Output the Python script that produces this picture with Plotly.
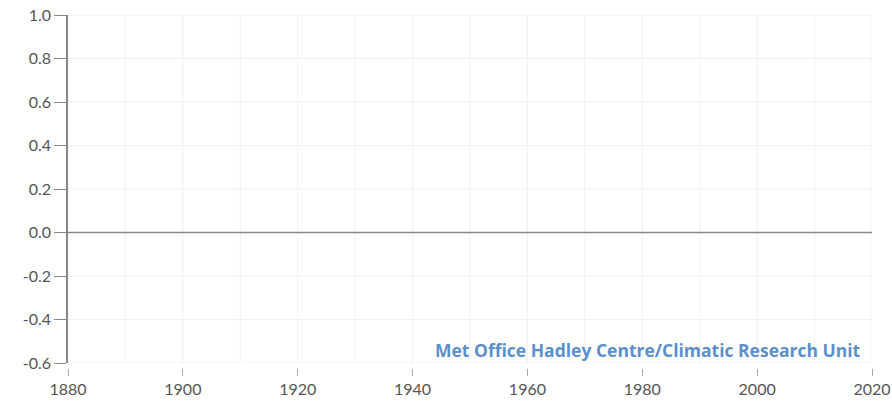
import plotly.graph_objects as go

# Axis ranges and ticks
x_range = [1880, 2020]
y_range = [-0.6, 1.0]
x_ticks = [1880, 1900, 1920, 1940, 1960, 1980, 2000, 2020]
y_ticks = [-0.6, -0.4, -0.2, 0.0, 0.2, 0.4, 0.6, 0.8, 1.0]
y_tick_labels = ["-0.6", "-0.4", "-0.2", "0.0", "0.2", "0.4", "0.6", "0.8", "1.0"]
x_grid = list(range(1880, 2021, 10))
y_grid = [-0.6, -0.4, -0.2, 0.2, 0.4, 0.6, 0.8, 1.0]
baseline_years = [1880, 2020]
baseline_values = [0.0, 0.0]
source_text = "Met Office Hadley Centre/Climatic Research Unit"

fig = go.Figure()

# faint grid lines
for gx in x_grid:
    fig.add_shape(type="line", xref="x", yref="y", x0=gx, x1=gx, y0=y_range[0], y1=y_range[1],
                  line=dict(color="#f0f0f0", width=1), layer="below")
for gy in y_grid:
    fig.add_shape(type="line", xref="x", yref="y", x0=x_range[0], x1=x_range[1], y0=gy, y1=gy,
                  line=dict(color="#f0f0f0", width=1), layer="below")

# zero baseline
fig.add_trace(go.Scatter(x=baseline_years, y=baseline_values, mode="lines",
                         line=dict(color="#888888", width=1.5), hoverinfo="skip", showlegend=False))

fig.add_annotation(text=source_text, xref="x", yref="y", x=2018.4, y=-0.54,
                   xanchor="right", yanchor="middle", showarrow=False,
                   font=dict(family="Open Sans", size=17.5, color="#5b8fc9", weight=700))

fig.update_layout(
    width=892, height=401,
    margin=dict(l=68, r=20, t=15, b=33),
    paper_bgcolor="white", plot_bgcolor="white",
    font=dict(family="Lato", size=16, color="#555555"),
    showlegend=False,
    xaxis=dict(range=x_range, tickvals=x_ticks, ticktext=[str(t) for t in x_ticks],
               showgrid=False, zeroline=False, showline=False, automargin=False,
               ticks="outside", ticklen=7, tickcolor="#aaaaaa", tickwidth=1,
               anchor="free", position=0, fixedrange=True,
               tickfont=dict(family="Lato", size=16, color="#555555")),
    yaxis=dict(range=y_range, tickvals=y_ticks, ticktext=y_tick_labels,
               domain=[0.014, 1], showgrid=False, zeroline=False, automargin=False,
               showline=True, linecolor="#888888", linewidth=1.5,
               ticks="outside", ticklen=12, tickcolor="#888888", tickwidth=1,
               fixedrange=True,
               tickfont=dict(family="Lato", size=16, color="#555555")),
)

fig.write_html("out.html", config={"displayModeBar": False},
               post_script="document.body.style.margin='0';document.body.style.overflow='hidden';")
